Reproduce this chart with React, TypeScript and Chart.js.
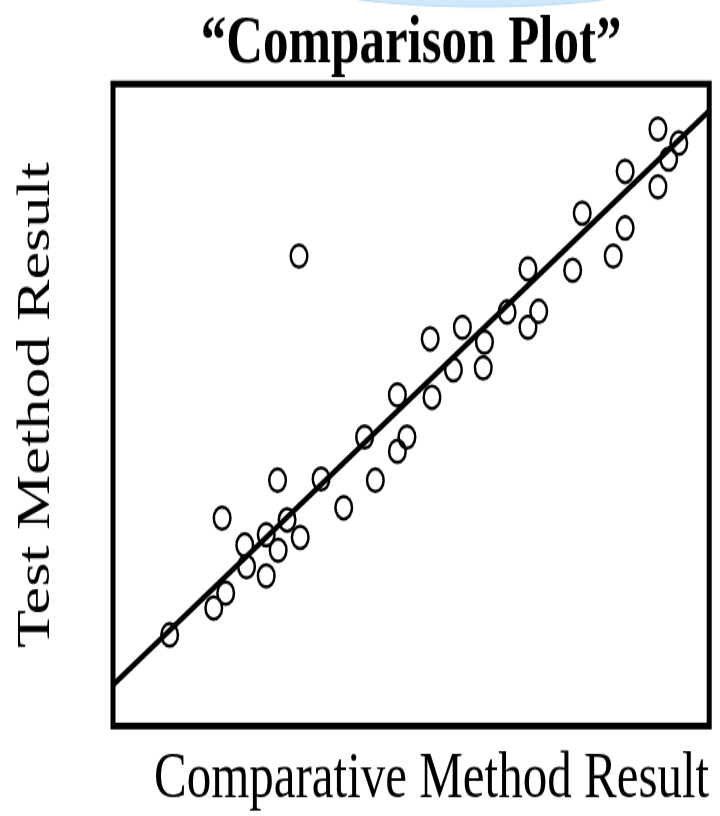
import React, { useEffect, useRef } from "react";
import { Chart, registerables } from "chart.js";

Chart.register(...registerables);

// Values (arbitrary 0–100 units on both axes)
const comparativeResults = [
  9.5, 16.9, 18.9, 18.3, 22.1, 22.4, 25.7, 25.7, 27.7, 27.6, 29.2, 31.4, 31.2,
  34.9, 38.7, 42.2, 44.0, 47.7, 49.3, 47.7, 53.5, 53.2, 57.1, 58.6, 62.1, 62.3,
  66.1, 69.6, 69.6, 71.4, 77.1, 78.7, 83.9, 85.9, 85.9, 91.4, 91.4, 93.2, 94.9,
];
const testResults = [
  14.2, 18.4, 20.7, 32.4, 28.2, 24.8, 23.4, 29.8, 27.4, 38.3, 32.1, 29.4, 73.2,
  38.5, 34.0, 45.0, 38.3, 42.8, 45.0, 51.6, 51.2, 60.3, 55.5, 62.1, 55.8, 59.8,
  64.5, 71.2, 62.1, 64.6, 71.0, 79.9, 73.2, 77.6, 86.4, 93.0, 84.0, 88.3, 90.8,
];
const fitLineX = [0, 100];
const fitLineY = [6.4, 95.8];

const titleText = "\u201CComparison Plot\u201D";
const xTitle = "Comparative Method Result";
const yTitle = "Test Method Result";

const CANVAS_W = 720;
const CANVAS_H = 604;
const PAGE_H = 816;

const framePlugin = {
  id: "frame",
  afterDatasetsDraw(chart: any) {
    const { ctx, chartArea } = chart;
    ctx.save();
    ctx.strokeStyle = "#000";
    ctx.lineWidth = 5;
    ctx.strokeRect(
      chartArea.left,
      chartArea.top,
      chartArea.right - chartArea.left,
      chartArea.bottom - chartArea.top
    );
    ctx.restore();
  },
};

const topShapePlugin = {
  id: "topShape",
  beforeDraw(chart: any) {
    const { ctx } = chart;
    ctx.save();
    ctx.fillStyle = "#cfe8fb";
    ctx.strokeStyle = "#b3daf6";
    ctx.lineWidth = 1;
    ctx.beginPath();
    ctx.ellipse(481, -20, 200, 25, 0, 0, Math.PI * 2);
    ctx.fill();
    ctx.stroke();
    ctx.restore();
  },
};

export default function App() {
  const canvasRef = useRef<HTMLCanvasElement | null>(null);

  useEffect(() => {
    if (!canvasRef.current) return;
    const points = comparativeResults.map((x, i) => ({ x, y: testResults[i] }));
    const fit = fitLineX.map((x, i) => ({ x, y: fitLineY[i] }));
    const chart = new Chart(canvasRef.current, {
      type: "scatter",
      data: {
        datasets: [
          {
            type: "line",
            data: fit,
            borderColor: "#000",
            borderWidth: 4.5,
            pointRadius: 0,
            fill: false,
            order: 2,
          } as any,
          {
            type: "scatter",
            data: points,
            pointStyle: "circle",
            pointRadius: 8.3,
            borderWidth: 2.5,
            borderColor: "#000",
            backgroundColor: "rgba(0,0,0,0)",
            order: 1,
          },
        ],
      },
      options: {
        responsive: false,
        animation: false,
        events: [],
        layout: { padding: { left: 0, right: 5, top: 0, bottom: 0 } },
        plugins: {
          legend: { display: false },
          tooltip: { enabled: false },
          title: {
            display: true,
            text: titleText,
            fullSize: false,
            color: "#000",
            font: { family: "'Liberation Serif', serif", size: 51, weight: "bold", lineHeight: 1 },
            padding: { top: 7, bottom: 4.2 },
          },
        },
        scales: {
          x: {
            type: "linear",
            min: 0,
            max: 100,
            grid: { display: false, drawTicks: false },
            border: { display: false },
            ticks: { display: false },
            title: {
              display: true,
              text: xTitle,
              align: "end",
              color: "#000",
              font: { family: "'Liberation Serif', serif", size: 49, lineHeight: 1 },
              padding: { top: 15.6, bottom: 2 },
            },
          },
          y: {
            type: "linear",
            min: 0,
            max: 100,
            grid: { display: false, drawTicks: false },
            border: { display: false },
            ticks: { display: false },
            title: {
              display: true,
              text: yTitle,
              color: "#000",
              font: { family: "'Liberation Serif', serif", size: 46, lineHeight: 1 },
              padding: { top: 13.6, bottom: 53.4 },
            },
          },
        },
      },
      plugins: [topShapePlugin, framePlugin],
    });
    return () => chart.destroy();
  }, []);

  return (
    <div
      style={{
        position: "fixed",
        left: 0,
        top: 0,
        width: CANVAS_W,
        height: PAGE_H,
        overflow: "hidden",
        background: "#fff",
      }}
    >
      <div
        style={{
          width: CANVAS_W,
          height: CANVAS_H,
          transform: `scaleY(${PAGE_H / CANVAS_H})`,
          transformOrigin: "0 0",
        }}
      >
        <canvas
          ref={canvasRef}
          width={CANVAS_W}
          height={CANVAS_H}
          style={{ display: "block", width: CANVAS_W, height: CANVAS_H }}
        />
      </div>
    </div>
  );
}
